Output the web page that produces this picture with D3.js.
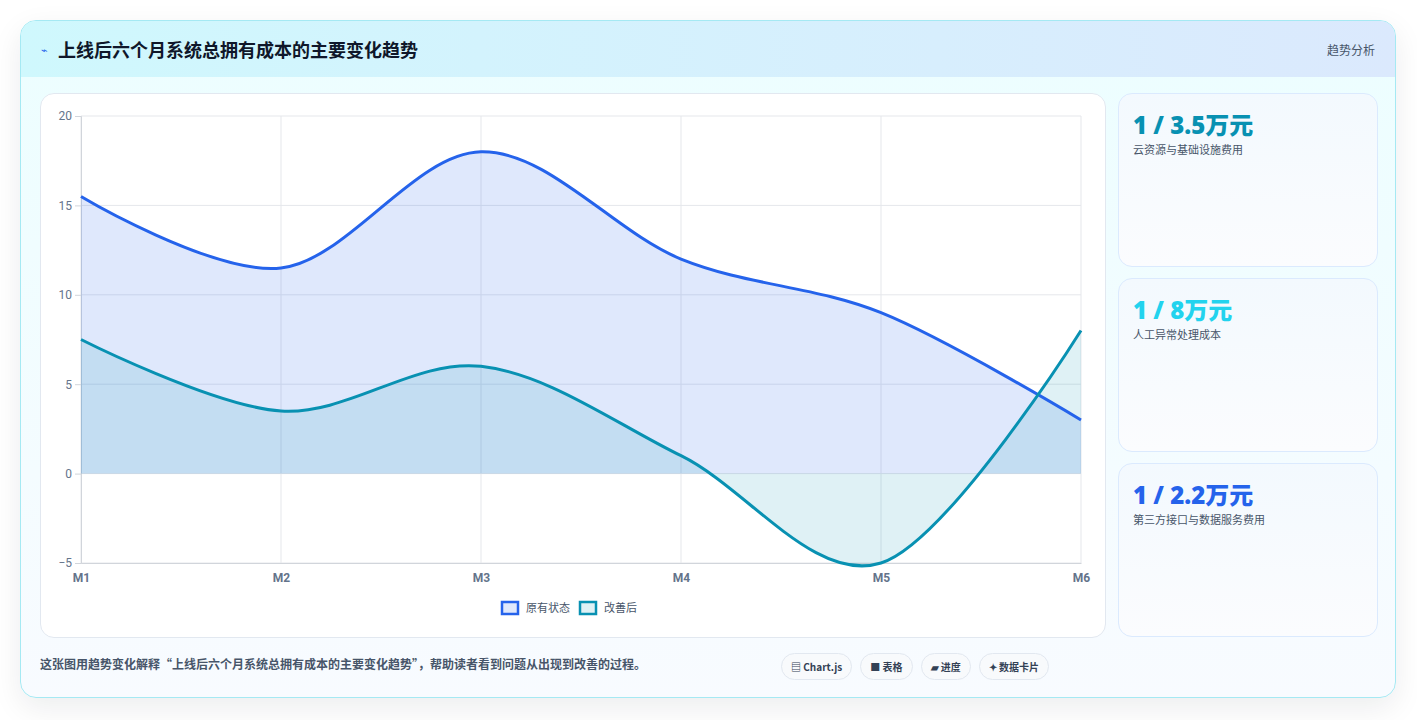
<!DOCTYPE html>
<html><head><meta charset="utf-8">
<script src="https://cdn.jsdelivr.net/npm/d3@7"></script>
<style>
body{margin:0;background:#fff;font-family:"Noto Sans CJK SC","Noto Sans",sans-serif;}
.card{position:absolute;left:20px;top:20px;width:1374px;height:676px;border:1px solid #a5e9f3;border-radius:16px;background:linear-gradient(180deg,#ecfeff,#f8fbff);box-shadow:0 10px 30px rgba(15,23,42,0.08);overflow:hidden}
.head{height:56px;background:linear-gradient(90deg,#cff8fd,#dbe9fd);display:flex;align-items:center;padding:0 20px;justify-content:space-between}
.head h1{margin:0;font-size:18px;font-weight:700;color:#0f172a}
.head .ic{color:#2563eb;font-size:11px;margin-right:10px}
.head .tag{font-size:12px;color:#475569}
.panel{position:absolute;left:19px;top:72px;width:1064px;height:543px;background:#fff;border:1px solid #e2e8f0;border-radius:14px}
.side{position:absolute;left:1097px;width:258px;height:172px;border:1px solid #dbeafe;border-radius:14px;background:linear-gradient(180deg,#f3f9fe,#fbfcfe)}
.side .v{margin:12px 0 0 14px;font-size:24px;font-weight:800;font-family:"Open Sans","Noto Sans CJK SC",sans-serif}
.side .l{margin:0 0 0 14px;font-size:11px;color:#475569}
.foot{position:absolute;left:19px;top:634px;font-size:12px;font-weight:600;color:#475569}
.chips{position:absolute;left:760px;top:632px;display:flex;gap:8px}
.chip{font-size:10px;font-weight:700;color:#334155;border:1px solid #e2e8f0;background:#f8fafc;border-radius:14px;padding:5px 9px}
</style></head><body>
<div class="card">
 <div class="head"><div style="display:flex;align-items:center"><span class="ic">⌁</span><h1>上线后六个月系统总拥有成本的主要变化趋势</h1></div><span class="tag">趋势分析</span></div>
 <div class="panel"><svg id="chart" width="1064" height="543"></svg></div>
 <div id="sides"></div>
 <div class="foot">这张图用趋势变化解释“上线后六个月系统总拥有成本的主要变化趋势”，帮助读者看到问题从出现到改善的过程。</div>
 <div class="chips"><span class="chip">▤ Chart.js</span><span class="chip">■ 表格</span><span class="chip">▰ 进度</span><span class="chip">✦ 数据卡片</span></div>
</div>
<script>
const months = ["M1","M2","M3","M4","M5","M6"];
const before = [15.5, 11.5, 18, 12, 9, 3];
const after = [7.5, 3.5, 6, 1, -5, 8];
const yTicks = [-5, 0, 5, 10, 15, 20];
const cardValues = ["1 / 3.5万元","1 / 8万元","1 / 2.2万元"];
const cardLabels = ["云资源与基础设施费用","人工异常处理成本","第三方接口与数据服务费用"];
const cardColors = ["#0891b2","#22d3ee","#2563eb"];

const sides = d3.select("#sides");
cardValues.forEach((v,i)=>{
  const c = sides.append("div").attr("class","side").style("top",(72+i*185)+"px");
  c.append("div").attr("class","v").style("color",cardColors[i]).text(v);
  c.append("div").attr("class","l").text(cardLabels[i]);
});

const svg = d3.select("#chart");
const m = {l:40,t:22,r:24,b:74};
const W = 1064, H = 543;
const x = d3.scalePoint().domain(months).range([m.l, W-m.r]);
const y = d3.scaleLinear().domain([-5,20]).range([H-m.b, m.t]);

const g = svg.append("g");
yTicks.forEach(t=>g.append("line").attr("x1",m.l).attr("x2",W-m.r).attr("y1",y(t)).attr("y2",y(t)).attr("stroke","#e5e7eb"));
months.forEach(mo=>g.append("line").attr("x1",x(mo)).attr("x2",x(mo)).attr("y1",m.t).attr("y2",H-m.b).attr("stroke","#e5e7eb"));

const ya = svg.append("g").attr("transform",`translate(${m.l},0)`).call(d3.axisLeft(y).tickValues(yTicks).tickSize(6));
ya.select(".domain").attr("stroke","#d1d5db");
ya.selectAll("line").attr("stroke","#d1d5db");
ya.selectAll("text").attr("fill","#64748b").style("font-size","12px").style("font-family","Roboto,sans-serif");
const xa = svg.append("g").attr("transform",`translate(0,${H-m.b})`).call(d3.axisBottom(x).tickSize(0).tickPadding(10));
xa.select(".domain").attr("stroke","#d1d5db");
xa.selectAll("text").attr("fill","#64748b").style("font-size","12px").style("font-weight","700").style("font-family","Roboto,sans-serif");

const curve = d3.curveCatmullRom.alpha(0);
function draw(data, stroke, fill){
  const area = d3.area().x((d,i)=>x(months[i])).y0(y(0)).y1(d=>y(d)).curve(curve);
  const line = d3.line().x((d,i)=>x(months[i])).y(d=>y(d)).curve(curve);
  svg.append("path").attr("d",area(data)).attr("fill",fill);
  return ()=>svg.append("path").attr("d",line(data)).attr("fill","none").attr("stroke",stroke).attr("stroke-width",3);
}
const l1 = draw(before,"#2563eb","rgba(37,99,235,0.15)");
const l2 = draw(after,"#0891b2","rgba(8,145,178,0.13)");
l1(); l2();

const legend = [["原有状态","#2563eb","rgba(37,99,235,0.15)"],["改善后","#0891b2","rgba(8,145,178,0.13)"]];
let lx = 461;
legend.forEach(([n,s,f])=>{
  svg.append("rect").attr("x",lx).attr("y",508).attr("width",16).attr("height",12).attr("fill",f).attr("stroke",s).attr("stroke-width",2.5);
  const t = svg.append("text").attr("x",lx+24).attr("y",518).attr("font-size",11).attr("fill","#475569").text(n);
  lx += 24 + t.node().getComputedTextLength() + 10;
});
</script>
</body></html>
